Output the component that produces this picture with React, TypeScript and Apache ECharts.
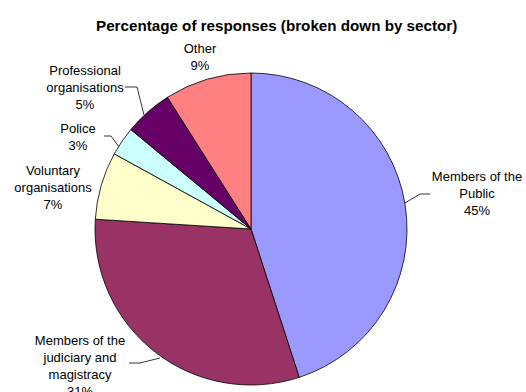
import React, { useEffect, useRef } from "react";
import * as echarts from "echarts";

const categories = [
  "Members of the\nPublic",
  "Members of the\njudiciary and\nmagistracy",
  "Voluntary\norganisations",
  "Police",
  "Professional\norganisations",
  "Other",
];
const values = [45, 31, 7, 3, 5, 9];
const colors = ["#9999FF", "#993366", "#FFFFCC", "#CCFFFF", "#660066", "#FF8080"];
const titleText = "Percentage of responses (broken down by sector)";

// label placement (style only)
const labelPos: Record<number, { x: number; y: number; line?: number[][] }> = {
  0: { x: 477, y: 193.5, line: [[405, 203], [420, 194], [430, 194]] },
  1: { x: 80, y: 366, line: [[160, 358], [140, 363], [129, 363]] },
  2: { x: 53, y: 187 },
  3: { x: 78, y: 136.5, line: [[119, 147], [111, 136], [104, 136]] },
  4: { x: 85, y: 87, line: [[144, 115], [137, 87], [125, 87]] },
  5: { x: 200, y: 56.5 },
};

export default function App() {
  const ref = useRef<HTMLDivElement>(null);
  useEffect(() => {
    document.body.style.margin = "0";
    const chart = echarts.init(ref.current!, null, { renderer: "svg" });
    chart.setOption({
      animation: false,
      backgroundColor: "#ffffff",
      title: {
        text: titleText,
        left: 91,
        top: 13,
        textStyle: {
          fontFamily: "'Liberation Sans', Arial, sans-serif",
          fontSize: 15.2,
          fontWeight: "bold",
          color: "#000",
        },
      },
      series: [
        {
          type: "pie",
          center: [251, 229],
          radius: 156,
          startAngle: 90,
          clockwise: true,
          avoidLabelOverlap: false,
          itemStyle: { borderColor: "#000", borderWidth: 0.8 },
          emphasis: { disabled: true },
          label: {
            show: true,
            position: "outside",
            fontFamily: "'Liberation Sans', Arial, sans-serif",
            fontSize: 13,
            lineHeight: 17,
            color: "#000",
            align: "center",
            formatter: (p: any) => `${p.name}\n${Math.round(p.percent)}%`,
          },
          labelLine: { show: true, lineStyle: { color: "#000", width: 0.8 }, smooth: false },
          labelLayout: (p: any) => {
            const pos = labelPos[p.dataIndex];
            const o: any = { x: pos.x, y: pos.y, align: "center", verticalAlign: "middle" };
            if (pos.line) o.labelLinePoints = pos.line;
            return o;
          },
          data: categories.map((c, i) => ({
            name: c,
            value: values[i],
            itemStyle: { color: colors[i] },
            labelLine: { show: !!labelPos[i].line },
          })),
        },
      ],
    });
    return () => chart.dispose();
  }, []);
  return <div ref={ref} style={{ width: 526, height: 392 }} />;
}
